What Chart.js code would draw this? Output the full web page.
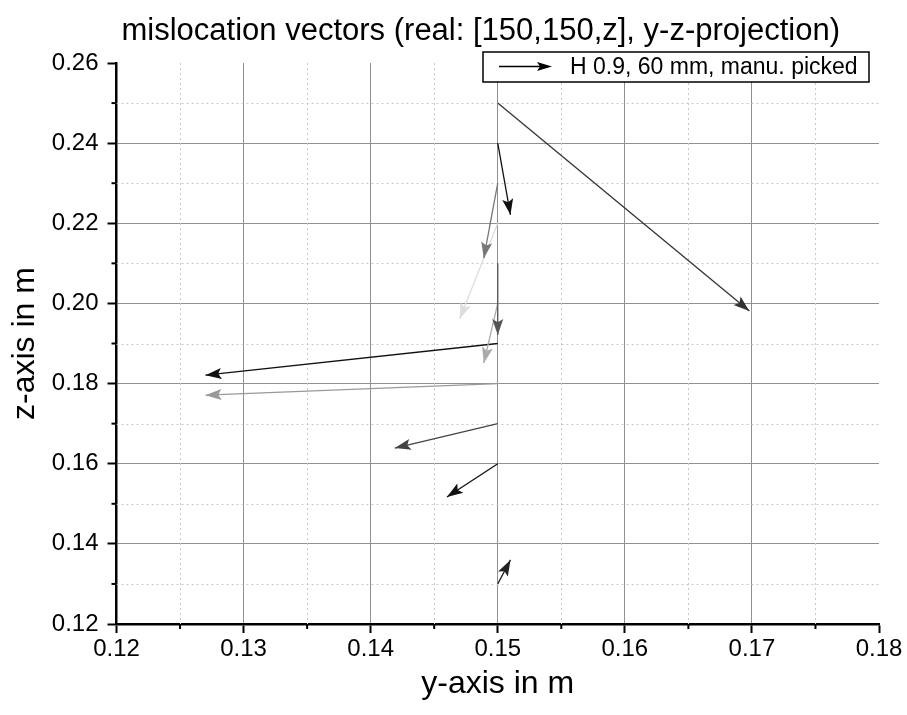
<!DOCTYPE html>
<html>
<head>
<meta charset="utf-8">
<script src="https://cdn.jsdelivr.net/npm/chart.js@4"></script>
<style>
  html, body { margin: 0; padding: 0; background: #fff; }
  #wrap { width: 907px; height: 715px; }
</style>
</head>
<body>
<div id="wrap"><canvas id="chart"></canvas></div>
<script>
// mislocation vectors: start point (real position) and end point (located)
const startY = [0.15, 0.15, 0.15, 0.15, 0.15, 0.15, 0.15, 0.15, 0.15, 0.15, 0.15];
const startZ = [0.25, 0.24, 0.23, 0.22, 0.21, 0.20, 0.19, 0.18, 0.17, 0.16, 0.13];
const endY   = [0.1698, 0.1510, 0.1489, 0.1470, 0.1500, 0.1489, 0.1270, 0.1270, 0.1419, 0.1460, 0.1510];
const endZ   = [0.1981, 0.2221, 0.2113, 0.1961, 0.1921, 0.1851, 0.1821, 0.1771, 0.1639, 0.1517, 0.1360];
const arrowColors = ['#333333', '#111111', '#777777', '#dddddd', '#555555', '#aaaaaa',
                     '#111111', '#999999', '#444444', '#111111', '#222222'];

const xTicks = [0.12, 0.13, 0.14, 0.15, 0.16, 0.17, 0.18];
const yTicks = [0.12, 0.14, 0.16, 0.18, 0.20, 0.22, 0.24, 0.26];
const legendLabel = 'H 0.9, 60 mm, manu. picked';
const chartTitle = 'mislocation vectors (real: [150,150,z], y-z-projection)';

const FONT = "'Liberation Sans', Arial, sans-serif";

// one line dataset per vector
const datasets = startY.map((y0, i) => ({
    data: [{ x: y0, y: startZ[i] }, { x: endY[i], y: endZ[i] }],
    borderColor: arrowColors[i],
    backgroundColor: arrowColors[i],
    borderWidth: 1.3,
    pointRadius: 0,
    showLine: true,
    fill: false
}));

function isMajor(v, list) {
    return list.some(t => Math.abs(t - v) < 1e-6);
}

function drawHead(ctx, x0, y0, x1, y1, len, half, color) {
    const a = Math.atan2(y1 - y0, x1 - x0);
    ctx.save();
    ctx.fillStyle = color;
    ctx.beginPath();
    ctx.moveTo(x1, y1);
    ctx.lineTo(x1 - len * Math.cos(a) + half * Math.sin(a), y1 - len * Math.sin(a) - half * Math.cos(a));
    ctx.lineTo(x1 - len * 0.8 * Math.cos(a), y1 - len * 0.8 * Math.sin(a));
    ctx.lineTo(x1 - len * Math.cos(a) - half * Math.sin(a), y1 - len * Math.sin(a) + half * Math.cos(a));
    ctx.closePath();
    ctx.fill();
    ctx.restore();
}

// minor grid (dotted) and minor ticks
const minorGrid = {
    id: 'minorGrid',
    beforeDatasetsDraw(chart) {
        const { ctx, chartArea: ca, scales } = chart;
        ctx.save();
        ctx.strokeStyle = '#c8c8c8';
        ctx.lineWidth = 1;
        ctx.setLineDash([2, 3]);
        for (let v = 0.125; v < 0.18; v += 0.01) {
            const px = Math.round(scales.x.getPixelForValue(v)) + 0.5;
            ctx.beginPath(); ctx.moveTo(px, ca.top); ctx.lineTo(px, ca.bottom); ctx.stroke();
        }
        for (let v = 0.13; v < 0.26; v += 0.02) {
            const py = Math.round(scales.y.getPixelForValue(v)) + 0.5;
            ctx.beginPath(); ctx.moveTo(ca.left, py); ctx.lineTo(ca.right, py); ctx.stroke();
        }
        ctx.setLineDash([]);
        ctx.strokeStyle = '#000';
        ctx.lineWidth = 2;
        for (let v = 0.125; v < 0.18; v += 0.01) {
            const px = scales.x.getPixelForValue(v);
            ctx.beginPath(); ctx.moveTo(px, ca.bottom); ctx.lineTo(px, ca.bottom + 5); ctx.stroke();
        }
        for (let v = 0.13; v < 0.26; v += 0.02) {
            const py = scales.y.getPixelForValue(v);
            ctx.beginPath(); ctx.moveTo(ca.left, py); ctx.lineTo(ca.left - 5, py); ctx.stroke();
        }
        ctx.restore();
    }
};

// arrow heads, legend box and title
const arrows = {
    id: 'arrows',
    afterDatasetsDraw(chart) {
        const { ctx, chartArea: ca } = chart;
        chart.data.datasets.forEach((ds, i) => {
            const pts = chart.getDatasetMeta(i).data;
            drawHead(ctx, pts[0].x, pts[0].y, pts[1].x, pts[1].y, 16, 5.5, ds.borderColor);
        });
        // legend
        const bx = ca.right - 396, by = ca.top - 11, bw = 386, bh = 30;
        ctx.save();
        ctx.fillStyle = '#fff';
        ctx.fillRect(bx, by, bw, bh);
        ctx.strokeStyle = '#000';
        ctx.lineWidth = 1.5;
        ctx.strokeRect(bx, by, bw, bh);
        ctx.strokeStyle = '#000';
        ctx.lineWidth = 1.3;
        ctx.beginPath(); ctx.moveTo(bx + 16, by + 14.5); ctx.lineTo(bx + 58, by + 14.5); ctx.stroke();
        drawHead(ctx, bx + 16, by + 14.5, bx + 69, by + 14.5, 15, 4.5, '#000');
        ctx.fillStyle = '#000';
        ctx.font = '23px ' + FONT;
        ctx.textBaseline = 'middle';
        ctx.fillText(legendLabel, bx + 87, by + 15.5);
        // title
        ctx.font = '31px ' + FONT;
        ctx.textAlign = 'center';
        ctx.fillText(chartTitle, (ca.left + ca.right) / 2 - 17, 31);
        ctx.restore();
    }
};

new Chart(document.getElementById('chart'), {
    type: 'scatter',
    data: { datasets: datasets },
    options: {
        responsive: true,
        maintainAspectRatio: false,
        animation: false,
        layout: { padding: { left: 0, right: 28, top: 63, bottom: 0 } },
        plugins: {
            legend: { display: false },
            tooltip: { enabled: false },
            title: { display: false }
        },
        scales: {
            x: {
                type: 'linear',
                min: 0.12, max: 0.18,
                afterBuildTicks: s => { s.ticks = xTicks.map(v => ({ value: v })); },
                afterFit: s => { s.height = 91; },
                ticks: {
                    color: '#000',
                    font: { family: FONT, size: 24 },
                    padding: 2,
                    maxRotation: 0,
                    callback: v => v.toFixed(2)
                },
                grid: {
                    color: c => (c.tick && isMajor(c.tick.value, [0.18])) ? 'rgba(0,0,0,0)' : '#909090',
                    lineWidth: 1,
                    tickLength: 9,
                    tickColor: '#000',
                    tickWidth: 2
                },
                border: { color: '#000', width: 2.5 },
                title: {
                    display: true,
                    text: 'y-axis in m',
                    color: '#000',
                    font: { family: FONT, size: 32 },
                    padding: { top: 0, bottom: 12 }
                }
            },
            y: {
                type: 'linear',
                min: 0.12, max: 0.26,
                afterBuildTicks: s => { s.ticks = yTicks.map(v => ({ value: v })); },
                afterFit: s => { s.width = 116.5; },
                ticks: {
                    color: '#000',
                    font: { family: FONT, size: 24 },
                    padding: 9,
                    callback: v => v.toFixed(2)
                },
                grid: {
                    color: c => (c.tick && isMajor(c.tick.value, [0.26])) ? 'rgba(0,0,0,0)' : '#909090',
                    lineWidth: 1,
                    tickLength: 9,
                    tickColor: '#000',
                    tickWidth: 2
                },
                border: { color: '#000', width: 2.5 },
                title: {
                    display: true,
                    text: 'z-axis in m',
                    color: '#000',
                    font: { family: FONT, size: 32 },
                    padding: { top: 6, bottom: 0 }
                }
            }
        }
    },
    plugins: [minorGrid, arrows]
});
</script>
</body>
</html>
